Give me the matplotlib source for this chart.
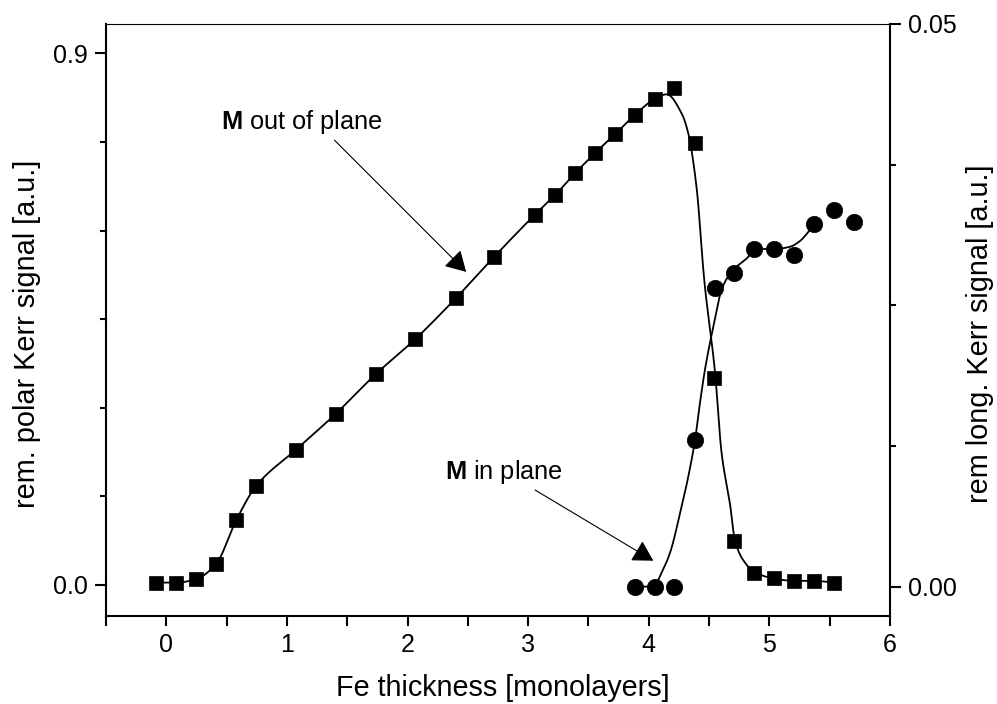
import numpy as np
import matplotlib
matplotlib.use("Agg")
import matplotlib.pyplot as plt

plt.rcParams["font.family"] = ["Liberation Sans", "DejaVu Sans"]
plt.rcParams["mathtext.fontset"] = "custom"
plt.rcParams["mathtext.rm"] = "Liberation Sans"
plt.rcParams["mathtext.bf"] = "Liberation Sans:bold"

# Remanent polar Kerr signal (left axis), squares
polar_x = [-0.083, 0.083, 0.249, 0.414, 0.580, 0.746, 1.075, 1.406, 1.737,
           2.063, 2.403, 2.720, 3.057, 3.223, 3.389, 3.554, 3.720, 3.886,
           4.052, 4.210, 4.383, 4.543, 4.708, 4.874, 5.040, 5.205, 5.371, 5.537]
polar_y = [0.004, 0.004, 0.010, 0.036, 0.110, 0.168, 0.229, 0.290, 0.357,
           0.416, 0.486, 0.556, 0.627, 0.660, 0.697, 0.731, 0.763, 0.796,
           0.823, 0.842, 0.748, 0.350, 0.075, 0.021, 0.011, 0.007, 0.007, 0.004]

# Remanent longitudinal Kerr signal (right axis), circles
long_x = [3.886, 4.052, 4.211, 4.383, 4.549, 4.708, 4.874, 5.040, 5.203,
          5.371, 5.537, 5.703]
long_y = [0.0, 0.0, 0.0, 0.0130, 0.0265, 0.0279, 0.0300, 0.0300, 0.0295,
          0.0322, 0.0335, 0.0324]

# Guide-to-the-eye curves
polar_fit_x = [-0.083, 0.083, 0.249, 0.414, 0.580, 0.746, 1.075, 1.406, 1.737,
               2.063, 2.403, 2.720, 3.057, 3.223, 3.389, 3.554, 3.720, 3.886,
               4.052, 4.148, 4.273, 4.327, 4.397, 4.460, 4.549, 4.604, 4.673,
               4.714, 4.783, 4.874, 5.032, 5.205, 5.371, 5.537]
polar_fit_y = [0.004, 0.004, 0.010, 0.036, 0.110, 0.168, 0.229, 0.290, 0.357,
               0.416, 0.486, 0.556, 0.627, 0.660, 0.697, 0.731, 0.763, 0.796,
               0.823, 0.8306, 0.798, 0.765, 0.6715, 0.516, 0.3605, 0.223, 0.138,
               0.076, 0.042, 0.0225, 0.011, 0.007, 0.007, 0.004]

long_fit_x = [3.886, 4.052, 4.079, 4.176, 4.259, 4.328, 4.383, 4.424, 4.466,
              4.535, 4.604, 4.687, 4.824, 4.874, 5.040, 5.169, 5.252, 5.321, 5.371]
long_fit_y = [0.0, 0.0, 0.0006, 0.0030, 0.0065, 0.0098, 0.0130, 0.0163, 0.0193,
              0.0231, 0.0264, 0.0280, 0.0293, 0.0300, 0.0300, 0.0302, 0.0307,
              0.0315, 0.0322]

x_ticks = [0, 1, 2, 3, 4, 5, 6]
left_ticks = [0.0, 0.9]
left_ticklabels = ["0.0", "0.9"]
right_ticks = [0.0, 0.05]
right_ticklabels = ["0.00", "0.05"]


def pchip(x, y, xs):
    """Monotone piecewise-cubic Hermite curve through (x, y)."""
    x = np.asarray(x, float)
    y = np.asarray(y, float)
    h = np.diff(x)
    d = np.diff(y) / h
    m = np.zeros_like(y)
    for k in range(1, len(x) - 1):
        if d[k - 1] * d[k] > 0:
            w1 = 2 * h[k] + h[k - 1]
            w2 = h[k] + 2 * h[k - 1]
            m[k] = (w1 + w2) / (w1 / d[k - 1] + w2 / d[k])
    m[0] = d[0]
    m[-1] = d[-1]
    idx = np.clip(np.searchsorted(x, xs) - 1, 0, len(x) - 2)
    t = (xs - x[idx]) / h[idx]
    h00 = 2 * t**3 - 3 * t**2 + 1
    h10 = t**3 - 2 * t**2 + t
    h01 = -2 * t**3 + 3 * t**2
    h11 = t**3 - t**2
    return (h00 * y[idx] + h10 * h[idx] * m[idx]
            + h01 * y[idx + 1] + h11 * h[idx] * m[idx + 1])


fig = plt.figure(figsize=(9.97, 7.04), dpi=100)
ax = fig.add_axes([0.10632, 0.12543, 0.78636, 0.84048])
ax2 = ax.twinx()

xs = np.linspace(polar_fit_x[0], polar_fit_x[-1], 1500)
ax.plot(xs, pchip(polar_fit_x, polar_fit_y, xs), color="black", lw=1.3, zorder=2)
ax.plot(polar_x, polar_y, ls="none", marker="s", ms=9.8, mfc="black",
        mec="black", mew=0.5, zorder=3)

xs2 = np.linspace(long_fit_x[0], long_fit_x[-1], 1000)
ax2.plot(xs2, pchip(long_fit_x, long_fit_y, xs2), color="black", lw=1.3, zorder=2)
ax2.plot(long_x, long_y, ls="none", marker="o", ms=11.8, mfc="black",
         mec="black", mew=0.5, zorder=3)

ax.set_xlim(-0.5, 6)
ax.set_ylim(-0.052, 0.9496)
ax2.set_ylim(-0.00258, 0.05)

ax.set_xticks(x_ticks)
ax.set_xticks(np.arange(-0.5, 6.01, 0.5), minor=True)
ax.set_yticks(left_ticks)
ax.set_yticklabels(left_ticklabels)
ax.set_yticks(np.arange(0.15, 0.8, 0.15), minor=True)
ax2.set_yticks(right_ticks)
ax2.set_yticklabels(right_ticklabels)
ax2.set_yticks(np.arange(0.0125, 0.049, 0.0125), minor=True)

ax.tick_params(axis="x", which="both", direction="out", length=7.2, width=1.5,
               labelsize=18, pad=5, top=False)
ax.tick_params(axis="y", which="major", direction="out", length=7.9, width=1.5,
               labelsize=18, pad=5, right=False)
ax.tick_params(axis="y", which="minor", direction="out", length=4.3, width=1.5,
               right=False)
ax2.tick_params(axis="y", which="major", direction="out", length=7.9, width=1.5,
                labelsize=18, pad=5, left=False)
ax2.tick_params(axis="y", which="minor", direction="out", length=4.3, width=1.5,
                left=False)

for s in ("left", "bottom"):
    ax.spines[s].set_linewidth(1.5)
ax.spines["top"].set_linewidth(0.8)
ax.spines["right"].set_visible(False)
for s in ("left", "bottom", "top"):
    ax2.spines[s].set_visible(False)
ax2.spines["right"].set_linewidth(1.5)

ax.set_xlabel("Fe thickness [monolayers]", fontsize=20.7, va="center")
ax.xaxis.set_label_coords(0.5057, -0.122)
ax.set_ylabel("rem. polar Kerr signal [a.u.]", fontsize=20.8, va="center",
              ha="center", rotation_mode="anchor")
ax.yaxis.set_label_coords(-0.1008, 0.476)
ax2.set_ylabel("rem long. Kerr signal [a.u.]", fontsize=20.8, va="center",
               ha="center", rotation=90, rotation_mode="anchor")
ax2.yaxis.set_label_coords(1.1148, 0.476)

arrow = dict(arrowstyle="-|>,head_length=0.4,head_width=0.23",
             mutation_scale=31.5, color="black", lw=0.8,
             shrinkA=0, shrinkB=0)
ax.text(0.453, 0.784, r"$\mathbf{M}$ out of plane", fontsize=18.3,
        ha="left", va="center")
ax.annotate("", xy=(2.486, 0.530), xytext=(1.394, 0.753), arrowprops=arrow)
ax.text(2.311, 0.1918, r"$\mathbf{M}$ in plane", fontsize=18.3,
        ha="left", va="center")
ax.annotate("", xy=(4.037, 0.0411), xytext=(3.057, 0.1608), arrowprops=arrow)

fig.savefig("out.png", dpi=100)
